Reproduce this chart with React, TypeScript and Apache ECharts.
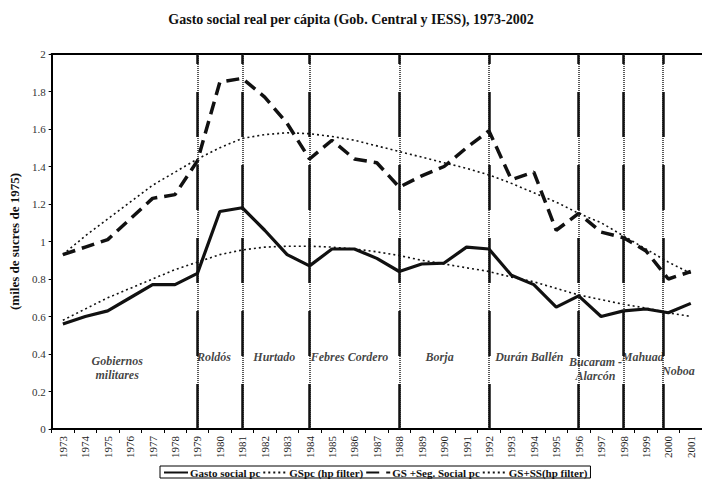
import React, { useEffect, useRef } from "react";
import * as echarts from "echarts";

const years = ["1973","1974","1975","1976","1977","1978","1979","1980","1981","1982","1983","1984","1985","1986","1987","1988","1989","1990","1991","1992","1993","1994","1995","1996","1997","1998","1999","2000","2001"];
const gastoSocial = [0.56,0.60,0.63,0.70,0.77,0.77,0.83,1.16,1.18,1.06,0.93,0.87,0.96,0.96,0.91,0.84,0.88,0.885,0.97,0.96,0.82,0.77,0.65,0.71,0.60,0.63,0.64,0.62,0.67];
const gsHp = [0.58,0.64,0.70,0.75,0.80,0.85,0.89,0.93,0.955,0.97,0.975,0.975,0.97,0.96,0.945,0.925,0.90,0.88,0.86,0.84,0.81,0.785,0.75,0.715,0.69,0.665,0.645,0.62,0.60];
const gsSS = [0.93,0.97,1.01,1.12,1.23,1.25,1.43,1.85,1.87,1.77,1.63,1.44,1.54,1.44,1.42,1.29,1.35,1.40,1.50,1.59,1.33,1.37,1.06,1.15,1.05,1.02,0.95,0.80,0.84];
const gsSSHp = [0.93,1.03,1.12,1.21,1.30,1.37,1.44,1.50,1.55,1.57,1.58,1.575,1.56,1.54,1.51,1.48,1.45,1.42,1.39,1.355,1.31,1.26,1.21,1.15,1.10,1.03,0.96,0.89,0.83];

const regimeNames = ["Gobiernos\nmilitares","Roldós","Hurtado","Febres Cordero","Borja","Durán Ballén","Bucaram -\nAlarcón","Mahuad","Noboa"];
const regimeX = [1975.42,1979.74,1982.43,1985.78,1989.8,1993.8,1996.75,1998.86,2000.45];
const regimeY = [0.325,0.385,0.385,0.385,0.385,0.385,0.32,0.385,0.31];
const changeYears = [1979,1981,1984,1988,1992,1996,1998,1999.75];

const serif = "Liberation Serif";

export default function App() {
  const ref = useRef<HTMLDivElement>(null);
  useEffect(() => {
    if (!ref.current) return;
    const chart = echarts.init(ref.current, null, { renderer: "svg" });
    const vlineData = changeYears.map((y) => ({ xAxis: y }));
    chart.setOption({
      animation: false,
      backgroundColor: "#fff",
      textStyle: { fontFamily: serif, color: "#000" },
      title: {
        text: "Gasto social real per cápita (Gob. Central y IESS), 1973-2002",
        left: "center",
        top: 7,
        textStyle: { fontFamily: serif, fontSize: 14, fontWeight: "bold", color: "#111" },
      },
      legend: {
        top: 466,
        left: 160,
        data: ["Gasto social pc", "GSpc (hp filter)", "GS +Seg. Social pc", "GS+SS(hp filter)"],
        borderColor: "#000",
        borderWidth: 1,
        padding: [1, 3, 0, 3],
        itemGap: 2,
        itemWidth: 24,
        itemHeight: 10,
        itemStyle: { opacity: 0 },
        textStyle: { fontFamily: serif, fontSize: 11, fontWeight: "bold", color: "#111", padding: [0, 0, 0, -3] },
      },
      grid: { left: 49, top: 54, width: 658, height: 375 },
      xAxis: [
        {
          type: "category",
          data: years,
          boundaryGap: true,
          axisLine: { lineStyle: { color: "#000", width: 2 } },
          axisTick: { show: true, interval: 0, length: 4, lineStyle: { color: "#000" } },
          axisLabel: { interval: 0, rotate: 90, fontFamily: serif, fontSize: 11, color: "#222", margin: 7 },
          splitLine: { show: false },
        },
        {
          type: "category",
          data: years,
          position: "top",
          axisLine: { show: true, lineStyle: { color: "#000", width: 2 } },
          axisTick: { show: false },
          axisLabel: { show: false },
        },
        {
          type: "value",
          min: 1972.5,
          max: 2001.5,
          show: false,
          splitLine: { show: false },
        },
      ],
      yAxis: {
        type: "value",
        min: 0,
        max: 2,
        interval: 0.2,
        name: "(miles de sucres de 1975)",
        nameLocation: "middle",
        nameGap: 23,
        nameTextStyle: { fontFamily: serif, fontSize: 13, fontWeight: "bold", color: "#111" },
        axisLine: { show: true, lineStyle: { color: "#000", width: 2 } },
        axisTick: { show: true, length: 3, lineStyle: { color: "#000" } },
        axisLabel: { fontFamily: serif, fontSize: 11, color: "#333", margin: 6 },
        splitLine: { show: false },
      },
      series: [
        {
          name: "vlines-dotted",
          type: "scatter",
          xAxisIndex: 2,
          data: regimeX.map((x, i) => [x, regimeY[i]]),
          symbolSize: 0,
          silent: true,
          markLine: {
            silent: true,
            symbol: "none",
            label: { show: false },
            lineStyle: { color: "#222", width: 1.5, type: [1, 1] },
            data: vlineData,
          },
        },
        {
          name: "vlines-solid",
          type: "scatter",
          xAxisIndex: 2,
          data: regimeX.map((x, i) => [x, regimeY[i], regimeNames[i]]),
          symbolSize: 0,
          silent: true,
          label: {
            show: true,
            position: "inside",
            formatter: (p: any) => p.data[2],
            fontFamily: serif,
            fontStyle: "italic",
            fontWeight: "bold",
            fontSize: 12,
            color: "#111",
            lineHeight: 14,
            align: "center",
          },
          markLine: {
            silent: true,
            symbol: "none",
            label: { show: false },
            lineStyle: { color: "#111", width: 2.5, type: [45, 28] },
            data: vlineData,
          },
        },
        {
          name: "Gasto social pc",
          type: "line",
          data: gastoSocial,
          symbol: "none",
          lineStyle: { color: "#111", width: 3.2, type: "solid" },
          itemStyle: { color: "#111" },
        },
        {
          name: "GSpc (hp filter)",
          type: "line",
          data: gsHp,
          symbol: "none",
          lineStyle: { color: "#111", width: 1.6, type: [2, 3] },
          itemStyle: { color: "#111" },
        },
        {
          name: "GS +Seg. Social pc",
          type: "line",
          data: gsSS,
          symbol: "none",
          lineStyle: { color: "#111", width: 3.5, type: [13, 7] },
          itemStyle: { color: "#111" },
        },
        {
          name: "GS+SS(hp filter)",
          type: "line",
          data: gsSSHp,
          symbol: "none",
          lineStyle: { color: "#111", width: 1.6, type: [2, 3] },
          itemStyle: { color: "#111" },
        },
      ],
    });
    return () => chart.dispose();
  }, []);
  return (
    <div
      ref={ref}
      style={{ position: "absolute", left: 0, top: 0, width: 702, height: 483, background: "#fff" }}
    />
  );
}
